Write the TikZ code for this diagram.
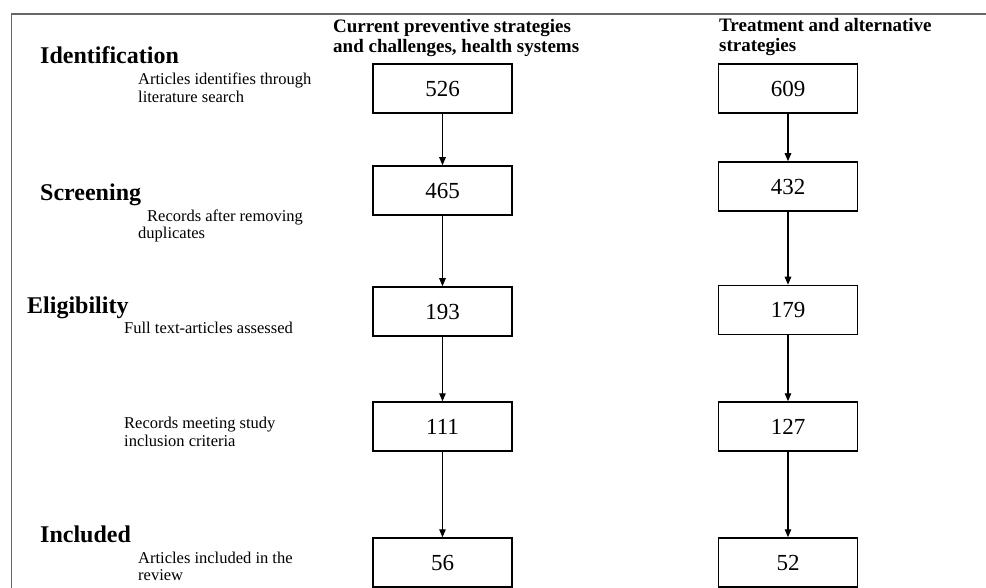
\documentclass[tikz,border=0pt]{standalone}
\usepackage{fontspec}
\setmainfont{Liberation Serif}
\usetikzlibrary{arrows.meta}
\begin{document}
\begin{tikzpicture}[x=1pt,y=-1pt,
  numbox/.style={draw=black, line width=1.5pt, minimum width=139pt, minimum height=49pt, inner sep=0pt, font=\fontsize{23}{26}\selectfont},
  stage/.style={anchor=base west, inner sep=0pt, font=\bfseries\fontsize{24}{28}\selectfont},
  note/.style={anchor=base west, inner sep=0pt, font=\fontsize{16.5}{18}\selectfont},
  head/.style={anchor=base west, inner sep=0pt, font=\bfseries\fontsize{19}{20}\selectfont},
  flow/.style={line width=1.2pt, -{Triangle[length=8pt,width=6.5pt]}},
  frame/.style={draw=black!60, line width=1.5pt}]
\useasboundingbox (0,0) rectangle (986,588);
\draw[frame] (986,14) -- (11.5,14) -- (11.5,588);

% column headers
\node[head] (h1a) at (333,33) {Current preventive strategies};
\node[head] (h1b) at (333,53) {and challenges, health systems};
\node[head] (h2a) at (719,32) {Treatment and alternative};
\node[head] (h2b) at (719,52) {strategies};

% stage labels
\node[stage] (sId) at (40,64) {Identification};
\node[note] (nIda) at (138,85) {Articles identifies through};
\node[note] (nIdb) at (138,103) {literature search};

\node[stage] (sSc) at (40,201) {Screening};
\node[note] (nSca) at (147,222) {Records after removing};
\node[note] (nScb) at (138,239) {duplicates};

\node[stage] (sEl) at (27,313) {Eligibility};
\node[note] (nEl) at (124,334) {Full text-articles assessed};

\node[note] (nMa) at (124,428) {Records meeting study};
\node[note] (nMb) at (124,446) {inclusion criteria};

\node[stage] (sIn) at (40,542) {Included};
\node[note] (nIna) at (138,563) {Articles included in the};
\node[note] (nInb) at (138,580) {review};

% boxes, column 1
\node[numbox] (a1) at (442.5,88.5) {526};
\node[numbox] (a2) at (442.5,190.5) {465};
\node[numbox] (a3) at (442.5,311.5) {193};
\node[numbox] (a4) at (442.5,426.5) {111};
\node[numbox] (a5) at (442.5,562.5) {56};

% boxes, column 2
\node[numbox] (b1) at (788,88.5) {609};
\node[numbox] (b2) at (788,186.5) {432};
\node[numbox] (b3) at (788,310) {179};
\node[numbox] (b4) at (788,426.5) {127};
\node[numbox] (b5) at (788,562.5) {52};

% arrows
\draw[flow] (a1.south) -- (a2.north);
\draw[flow] (a2.south) -- (a3.north);
\draw[flow] (a3.south) -- (a4.north);
\draw[flow] (a4.south) -- (a5.north);
\draw[flow] (b1.south) -- (b2.north);
\draw[flow] (b2.south) -- (b3.north);
\draw[flow] (b3.south) -- (b4.north);
\draw[flow] (b4.south) -- (b5.north);
\end{tikzpicture}
\end{document}
